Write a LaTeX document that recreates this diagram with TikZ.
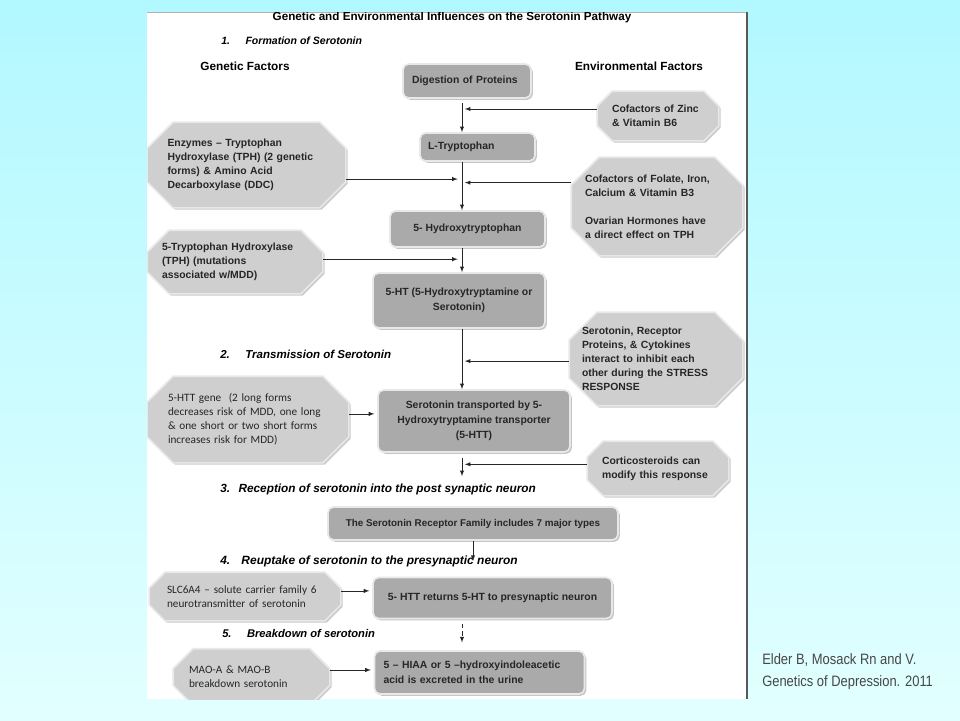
\documentclass[tikz,border=0pt]{standalone}
\usepackage{fontspec}
\setmainfont{Liberation Sans}
\newfontfamily\calibrifont{Carlito}
\newfontfamily\narrowfont[FakeStretch=0.86]{Liberation Sans}
\usetikzlibrary{positioning, arrows.meta, shadows}

\definecolor{slidecyanA}{RGB}{178,248,255}
\definecolor{slidecyanB}{RGB}{226,255,255}
\definecolor{boxgray}{RGB}{170,170,170}
\definecolor{octgray}{RGB}{207,207,207}
\definecolor{rimgray}{RGB}{232,232,232}
\definecolor{citegray}{RGB}{70,70,70}

% Octagon with cut corners of a fixed size
\makeatletter
\pgfkeys{/pgf/octagon cut/.initial=4mm}
\newdimen\octcut \newdimen\octL \newdimen\octR \newdimen\octB \newdimen\octT
\pgfdeclareshape{octagon box}{%
  \inheritsavedanchors[from=rectangle]%
  \inheritanchorborder[from=rectangle]%
  \inheritanchor[from=rectangle]{center}%
  \inheritanchor[from=rectangle]{text}%
  \inheritanchor[from=rectangle]{base}%
  \inheritanchor[from=rectangle]{north}%
  \inheritanchor[from=rectangle]{south}%
  \inheritanchor[from=rectangle]{east}%
  \inheritanchor[from=rectangle]{west}%
  \inheritanchor[from=rectangle]{north east}%
  \inheritanchor[from=rectangle]{north west}%
  \inheritanchor[from=rectangle]{south east}%
  \inheritanchor[from=rectangle]{south west}%
  \backgroundpath{%
    \pgfmathsetlength\octcut{\pgfkeysvalueof{/pgf/octagon cut}}%
    \southwest \pgf@xa=\pgf@x \pgf@ya=\pgf@y
    \northeast \pgf@xb=\pgf@x \pgf@yb=\pgf@y
    \octL=\pgf@xa \advance\octL by\octcut
    \octB=\pgf@ya \advance\octB by\octcut
    \octR=\pgf@xb \advance\octR by-\octcut
    \octT=\pgf@yb \advance\octT by-\octcut
    \pgfpathmoveto{\pgfqpoint{\octL}{\pgf@ya}}%
    \pgfpathlineto{\pgfqpoint{\octR}{\pgf@ya}}%
    \pgfpathlineto{\pgfqpoint{\pgf@xb}{\octB}}%
    \pgfpathlineto{\pgfqpoint{\pgf@xb}{\octT}}%
    \pgfpathlineto{\pgfqpoint{\octR}{\pgf@yb}}%
    \pgfpathlineto{\pgfqpoint{\octL}{\pgf@yb}}%
    \pgfpathlineto{\pgfqpoint{\pgf@xa}{\octT}}%
    \pgfpathlineto{\pgfqpoint{\pgf@xa}{\octB}}%
    \pgfpathclose
  }%
}
\makeatother

\begin{document}
\begin{tikzpicture}[x=0.25mm, y=-0.25mm,
    % Styles
    stepbox/.style={draw=rimgray, fill=boxgray, line width=1.2pt, rounded corners=4pt,
        drop shadow={shadow xshift=1.3pt, shadow yshift=-1.3pt, fill=black!45},
        font=\fontsize{7.4}{10.5}\selectfont\bfseries, text=black!85, inner sep=2pt},
    factor/.style={shape=octagon box, draw=rimgray, fill=octgray, line width=1.2pt,
        drop shadow={shadow xshift=1.3pt, shadow yshift=-1.3pt, fill=black!40},
        inner sep=1pt, align=left,
        font=\fontsize{7.4}{10}\selectfont\bfseries, text=black!85},
    calibri/.style={font=\calibrifont\fontsize{8}{10}\selectfont},
    heading/.style={anchor=west, inner sep=0pt, font=\fontsize{8.2}{9}\selectfont\bfseries\itshape},
    side/.style={font=\fontsize{8.4}{10}\selectfont\bfseries},
    flow/.style={-latex, thin, black!85},
]
\useasboundingbox (0,0) rectangle (960,720);

% Slide background and page
\shade[top color=slidecyanA, bottom color=slidecyanB] (0,0) rectangle (960,720);
\fill[white] (147,12) rectangle (747,699);
\draw[black!30] (147,12) -- (747,12);
\draw[black!65, line width=0.8pt] (747,12) -- (747,699);

\coordinate (spine) at (462,0);

\begin{scope}
\clip (147,12) rectangle (747,699);

% Title
\node[font=\fontsize{8.3}{9}\selectfont\bfseries] (title) at (452,17) {Genetic and Environmental Influences on the Serotonin Pathway};
\node[heading, font=\fontsize{7.5}{9}\selectfont\bfseries\itshape] (formation) at (221,41) {1.\hspace{11pt}Formation of Serotonin};
\node[side] (genetic) at (245,66) {Genetic Factors};
\node[side] (environmental) at (639,66) {Environmental Factors};

% 1. Formation of serotonin
\node[stepbox, minimum width=32mm, minimum height=8.5mm, text width=27.5mm, align=left] (digestion) at (467,81) {Digestion of Proteins};
\node[stepbox, minimum width=28.75mm, minimum height=7mm, text width=24.75mm, align=left] (ltrp) at (477.5,147) {L-Tryptophan};
\node[stepbox, minimum width=38.75mm, minimum height=9mm, align=center] (hydroxytrp) at (467.5,229) {5- Hydroxytryptophan};
\node[stepbox, minimum width=43mm, minimum height=13.75mm, align=center] (fiveht) at (459,300.5) {5-HT (5-Hydroxytryptamine or\\Serotonin)};

\node[factor, minimum width=30mm, minimum height=12mm, octagon cut=3.75mm, text width=23mm] (zinc) at (658,116)
    {Cofactors of Zinc\\\& Vitamin B6};
\node[factor, minimum width=49.25mm, minimum height=21mm, octagon cut=6.5mm, text width=39.5mm] (enzymes) at (246.5,165)
    {Enzymes – Tryptophan\\Hydroxylase (TPH) (2 genetic\\forms) \& Amino Acid\\Decarboxylase (DDC)};
\node[factor, minimum width=42.5mm, minimum height=24.25mm, octagon cut=7mm, text width=36mm] (folate) at (657,206.5)
    {Cofactors of Folate, Iron,\\Calcium \& Vitamin B3\\[10pt]Ovarian Hormones have\\a direct effect on TPH};
\node[factor, minimum width=43.5mm, minimum height=15.5mm, octagon cut=5.5mm, text width=36.5mm] (tph) at (235,262)
    {5-Tryptophan Hydroxylase\\(TPH) (mutations\\associated w/MDD)};

\draw[flow, shorten <=3pt] (digestion.south -| spine) -- (ltrp.north -| spine);
\draw[flow, shorten >=2pt] ([yshift=5pt]zinc.west) -- ([yshift=5pt]zinc.west -| spine);
\draw[flow, shorten >=3pt] ([yshift=-10pt]enzymes.east) -- ([yshift=-10pt]enzymes.east -| spine);
\draw[flow] (ltrp.south -| spine) -- (hydroxytrp.north -| spine);
\draw[flow, shorten >=2pt] ([yshift=17pt]folate.west) -- ([yshift=17pt]folate.west -| spine);
\draw[flow, shorten >=3pt] ([yshift=2pt]tph.east) -- ([yshift=2pt]tph.east -| spine);
\draw[flow] (hydroxytrp.south -| spine) -- (fiveht.north -| spine);

% 2. Transmission of serotonin
\node[heading] (transmission) at (220,354) {2.\hspace{11pt}Transmission of Serotonin};
\node[stepbox, minimum width=48mm, minimum height=15.5mm, align=center] (transported) at (474,421)
    {Serotonin transported by 5-\\Hydroxytryptamine transporter\\(5-HTT)};
\node[factor, minimum width=43mm, minimum height=23mm, octagon cut=7mm, text width=37mm] (stress) at (656,359)
    {Serotonin, Receptor\\Proteins, \& Cytokines\\interact to inhibit each\\other during the STRESS\\RESPONSE};
\node[factor, calibri, minimum width=50mm, minimum height=21.25mm, octagon cut=6.5mm, text width=40mm] (httgene) at (248,419.5)
    {5-HTT gene\ \ (2 long forms\\decreases risk of MDD, one long\\\& one short or two short forms\\increases risk for MDD)};
\node[factor, minimum width=35mm, minimum height=13.25mm, octagon cut=4mm, text width=28mm] (cortico) at (658,468.5)
    {Corticosteroids can\\modify this response};

\draw[flow] (fiveht.south -| spine) -- (transported.north -| spine);
\draw[flow, shorten >=2pt] ([yshift=-1.5pt]stress.west) -- ([yshift=-1.5pt]stress.west -| spine);
\draw[flow, shorten >=2pt] ([yshift=4pt]httgene.east) -- ([yshift=4pt]httgene.east -| transported.west);

% 3. Reception of serotonin
\node[heading, font=\fontsize{8.4}{9}\selectfont\bfseries\itshape] (reception) at (220,489) {3.\hspace{6pt}Reception of serotonin into the post synaptic neuron};
\node[stepbox, minimum width=72.5mm, minimum height=8.25mm, align=center, font=\fontsize{7}{10}\selectfont\bfseries] (receptor) at (473,523.5)
    {The Serotonin Receptor Family includes 7 major types};

\draw[flow, shorten <=4pt, shorten >=5pt] (transported.south -| spine) -- (reception.north -| spine);
\draw[flow, shorten >=2pt] ([yshift=3pt]cortico.west) -- ([yshift=3pt]cortico.west -| spine);

% 4. Reuptake of serotonin
\node[heading, font=\fontsize{8.5}{9}\selectfont\bfseries\itshape] (reuptake) at (220,561) {4.\hspace{8pt}Reuptake of serotonin to the presynaptic neuron};
\node[stepbox, minimum width=59.75mm, minimum height=10.25mm, align=center] (returns) at (492.5,598)
    {5- HTT returns 5-HT to presynaptic neuron};
\node[factor, calibri, minimum width=47.5mm, minimum height=11.75mm, octagon cut=4mm, text width=39mm] (slc) at (245,596.5)
    {SLC6A4 – solute carrier family 6\\neurotransmitter of serotonin};

\draw[flow] (receptor.south) -- (receptor.south |- reuptake.center);
\draw[flow, shorten >=2pt] ([yshift=4pt]slc.east) -- ([yshift=4pt]slc.east -| returns.west);

% 5. Breakdown of serotonin
\node[heading, font=\fontsize{7.95}{9}\selectfont\bfseries\itshape] (breakdown) at (222,633) {5.\hspace{11pt}Breakdown of serotonin};
\node[stepbox, minimum width=52.5mm, minimum height=10.75mm, text width=48mm, align=left] (hiaa) at (479.5,672.5)
    {5 – HIAA or 5 –hydroxyindoleacetic\\acid is excreted in the urine};
\node[factor, calibri, minimum width=38.75mm, minimum height=13.75mm, octagon cut=5mm, text width=31.25mm] (mao) at (251.5,677)
    {MAO-A \& MAO-B\\breakdown serotonin};

\draw[flow, densely dashed, shorten <=3.5pt, shorten >=5.5pt] (returns.south -| spine) -- (hiaa.north -| spine);
\draw[flow, shorten >=2pt] ([yshift=5pt]mao.east) -- ([yshift=5pt]mao.east -| hiaa.west);
\end{scope}

% Citation
\node[anchor=north west, inner sep=0pt, align=left, text=citegray,
    font=\narrowfont\fontsize{10.7}{15.6}\selectfont] (citation) at (762,653)
    {Elder B, Mosack Rn and V.\\Genetics of Depression. 2011};

\end{tikzpicture}
\end{document}
